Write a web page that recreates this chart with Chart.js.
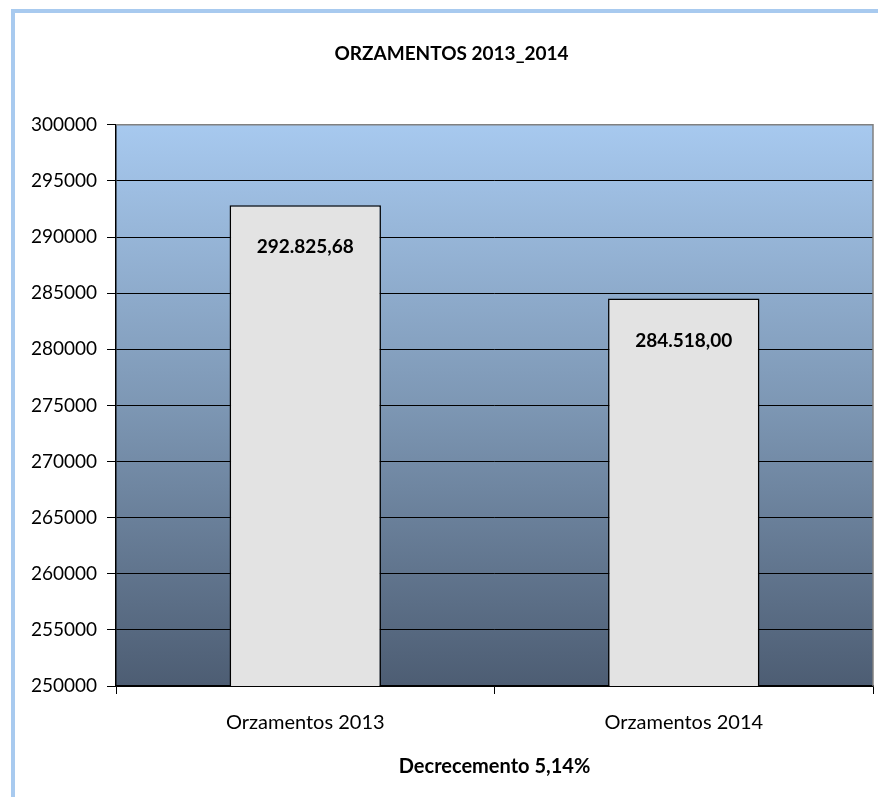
<!DOCTYPE html>
<html>
<head>
<meta charset="utf-8">
<script src="https://cdn.jsdelivr.net/npm/chart.js@4/dist/chart.umd.min.js"></script>
<style>
    html, body { margin: 0; padding: 0; background: #fff; overflow: hidden; }
    #wrap { position: relative; width: 878px; height: 797px; }
    #frame {
        position: absolute; left: 11px; top: 9px; width: 900px; height: 820px;
        border-left: 4px solid #a8caef; border-top: 4px solid #a8caef;
        box-sizing: border-box;
    }
    canvas { position: absolute; left: 0; top: 0; }
</style>
</head>
<body>
<div id="wrap">
    <div id="frame"></div>
    <canvas id="chart" width="878" height="797"></canvas>
</div>
<script>
// ==========================================
// DATA
// ==========================================
const categories = ['Orzamentos 2013', 'Orzamentos 2014'];
const budgetValues = [292825.68, 284518.00];
const valueLabels = ['292.825,68', '284.518,00'];
const chartTitle = 'ORZAMENTOS 2013_2014';
const xAxisTitle = 'Decrecemento 5,14%';

Chart.defaults.font.family = 'Lato';
Chart.defaults.color = '#000';

// gradient behind the plot + grey top/right border
const plotBackground = {
    id: 'plotBackground',
    beforeDraw(chart) {
        const { ctx, chartArea: a } = chart;
        const g = ctx.createLinearGradient(0, a.top, 0, a.bottom);
        g.addColorStop(0, '#a7c9ef');
        g.addColorStop(0.5, '#7d97b4');
        g.addColorStop(1, '#4d5d73');
        ctx.save();
        ctx.fillStyle = g;
        ctx.fillRect(a.left, a.top, a.right - a.left, a.bottom - a.top);
        ctx.restore();
    },
    afterDraw(chart) {
        const { ctx, chartArea: a } = chart;
        ctx.save();
        ctx.strokeStyle = '#808080';
        ctx.lineWidth = 1.5;
        ctx.beginPath();
        ctx.moveTo(a.left, a.top);
        ctx.lineTo(a.right, a.top);
        ctx.lineTo(a.right, a.bottom);
        ctx.stroke();
        ctx.restore();
    }
};

// bold value labels inside each bar
const barLabels = {
    id: 'barLabels',
    afterDatasetsDraw(chart) {
        const { ctx } = chart;
        const meta = chart.getDatasetMeta(0);
        ctx.save();
        ctx.font = 'bold 19px Lato';
        ctx.fillStyle = '#000';
        ctx.textAlign = 'center';
        ctx.textBaseline = 'middle';
        meta.data.forEach((bar, i) => {
            ctx.fillText(valueLabels[i], bar.x, bar.y + 42);
        });
        ctx.restore();
    }
};

new Chart(document.getElementById('chart'), {
    type: 'bar',
    data: {
        labels: categories,
        datasets: [{
            data: budgetValues,
            backgroundColor: '#e3e3e3',
            borderColor: '#000',
            borderWidth: 1.5,
            barPercentage: 0.4,
            categoryPercentage: 1.0
        }]
    },
    options: {
        responsive: false,
        animation: false,
        layout: { padding: { left: 30, right: 5, top: 0, bottom: 18 } },
        plugins: {
            legend: { display: false },
            tooltip: { enabled: false },
            title: {
                display: true,
                text: chartTitle,
                font: { size: 19, weight: 'bold' },
                color: '#000',
                padding: { top: 42, bottom: 60 }
            }
        },
        scales: {
            x: {
                grid: { offset: true, drawOnChartArea: false, color: '#000', tickLength: 8 },
                border: { color: '#000', width: 1.5 },
                ticks: { font: { size: 20 }, color: '#000', padding: 17 },
                title: {
                    display: true,
                    text: xAxisTitle,
                    font: { size: 20, weight: 'bold' },
                    color: '#000',
                    padding: { top: 3, bottom: 0 }
                }
            },
            y: {
                min: 250000,
                max: 300000,
                ticks: {
                    stepSize: 5000,
                    font: { size: 19 },
                    color: '#000',
                    padding: 10,
                    callback: (v) => String(v)
                },
                grid: { color: '#000', lineWidth: 1, tickLength: 9 },
                border: { color: '#000', width: 1.5 },
                afterFit(scale) { scale.width = 86; }
            }
        }
    },
    plugins: [plotBackground, barLabels]
});
</script>
</body>
</html>
